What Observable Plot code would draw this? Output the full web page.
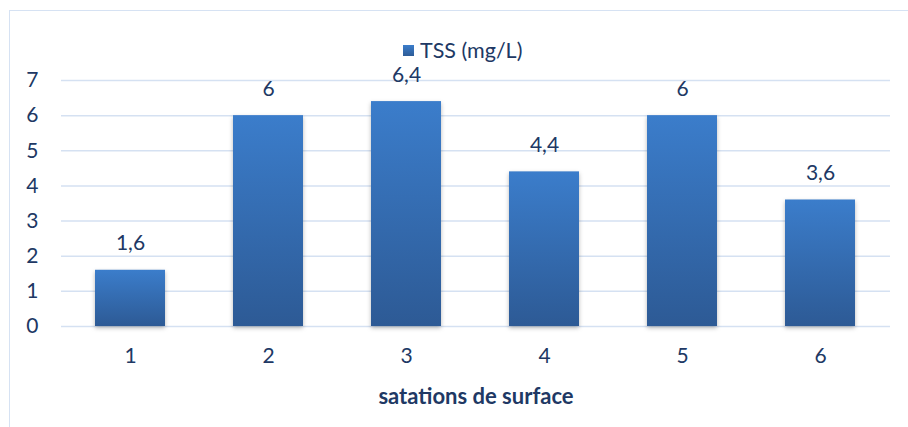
<!DOCTYPE html>
<html>
<head>
<meta charset="utf-8">
<script src="https://cdn.jsdelivr.net/npm/d3@7"></script>
<script src="https://cdn.jsdelivr.net/npm/@observablehq/plot@0.6"></script>
<style>
  body { margin: 0; background: #fff; }
  #wrap { position: relative; width: 908px; height: 427px; overflow: hidden; font-family: Lato, "Open Sans", sans-serif; color: #203864; }
  #frame { position: absolute; left: 9px; top: 10px; width: 910px; height: 440px; border: 1.5px solid #d6e2f3; box-sizing: border-box; }
  #legend { position: absolute; top: 37px; left: 403px; display: flex; align-items: center; font-size: 21.5px; color: #203864; }
  #legend .sw { width: 11px; height: 11px; background: linear-gradient(#3b7dcb, #2e5c97); margin-right: 6px; }
  #chart { position: absolute; left: 0; top: 0; }
</style>
</head>
<body>
<div id="wrap">
  <div id="frame"></div>
  <div id="chart"></div>
  <div id="legend"><div class="sw"></div><span>TSS (mg/L)</span></div>
</div>
<script>
// Total suspended solids at each surface station
const stations = [1, 2, 3, 4, 5, 6];
const tss = [1.6, 6, 6.4, 4.4, 6, 3.6];
const yTicks = [0, 1, 2, 3, 4, 5, 6, 7];
const xLabel = "satations de surface";

const data = stations.map((s, i) => ({station: s, value: tss[i]}));
const fmt = v => String(v).replace(".", ",");

const plot = Plot.plot({
  width: 908,
  height: 427,
  marginTop: 80,
  marginBottom: 101,
  marginLeft: 61,
  marginRight: 18,
  style: {fontFamily: "Lato, 'Open Sans', sans-serif", fontSize: "21px", color: "#203864", background: "transparent"},
  x: {domain: stations, paddingInner: 0.49, paddingOuter: 0.245, label: null, tickSize: 0, tickPadding: 22},
  y: {domain: [0, 7], ticks: yTicks, tickFormat: d => String(d), label: null, tickSize: 0, tickPadding: 23},
  marks: [
    Plot.ruleY(yTicks, {stroke: "#d5e1f2", strokeWidth: 1.5}),
    Plot.barY(data, {x: "station", y: "value", fill: "url(#barGrad)", className: "bars"}),
    Plot.text(data, {x: "station", y: "value", text: d => fmt(d.value), lineAnchor: "bottom", dy: -20, fill: "#203864", fontSize: 21}),
    Plot.text([xLabel], {frameAnchor: "bottom", dy: 77, fill: "#203864", fontWeight: "bold", fontSize: 22})
  ]
});

// Vertical gradient shared by every bar
const svg = d3.select(plot);
const grad = svg.insert("defs", ":first-child").append("linearGradient")
  .attr("id", "barGrad").attr("x1", 0).attr("y1", 0).attr("x2", 0).attr("y2", 1);
grad.append("stop").attr("offset", "0%").attr("stop-color", "#3b7dcb");
grad.append("stop").attr("offset", "100%").attr("stop-color", "#2d5a95");
svg.selectAll(".bars").style("filter", "drop-shadow(0px 2px 2px rgba(0,0,0,0.28))");

document.getElementById("chart").appendChild(plot);
</script>
</body>
</html>
